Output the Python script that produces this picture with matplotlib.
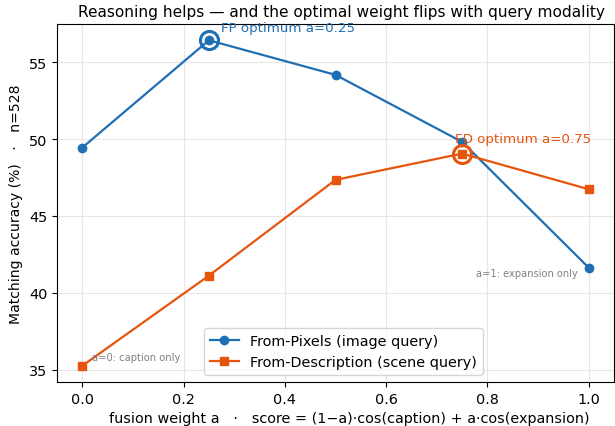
import matplotlib
matplotlib.use("Agg")
import matplotlib.pyplot as plt

weights = [0.0, 0.25, 0.5, 0.75, 1.0]
from_pixels = [49.45, 56.43, 54.18, 49.82, 41.64]
from_description = [35.26, 41.12, 47.35, 49.06, 46.74]

c_fp = "#1f6fb4"
c_fd = "#e6550d"

fig = plt.figure(figsize=(6.15, 4.27), dpi=100)
ax = fig.add_axes([57/615, 1-383/427, (614-57)/615, (383-25)/427])

ax.plot(weights, from_pixels, marker="o", color=c_fp, lw=1.6, ms=6, label="From-Pixels (image query)")
ax.plot(weights, from_description, marker="s", color=c_fd, lw=1.6, ms=6, label="From-Description (scene query)")

i_fp = from_pixels.index(max(from_pixels))
i_fd = from_description.index(max(from_description))
ax.plot(weights[i_fp], from_pixels[i_fp], marker="o", ms=13, mfc="none", mec=c_fp, mew=2.2)
ax.plot(weights[i_fd], from_description[i_fd], marker="o", ms=13, mfc="none", mec=c_fd, mew=2.2)
ax.annotate(f"FP optimum a={weights[i_fp]:.2f}", (weights[i_fp], from_pixels[i_fp]),
            xytext=(9, 7), textcoords="offset points", color=c_fp, fontsize=9.6)
ax.annotate(f"FD optimum a={weights[i_fd]:.2f}", (weights[i_fd], from_description[i_fd]),
            xytext=(-5, 8), textcoords="offset points", color=c_fd, fontsize=9.6)

ax.annotate("a=0: caption only", (weights[0], from_description[0]), xytext=(7, 4),
            textcoords="offset points", color="gray", fontsize=7.2)
ax.annotate("a=1: expansion only", (weights[-1], from_pixels[-1]), xytext=(-8, -6),
            textcoords="offset points", color="gray", fontsize=7.1, ha="right")

ax.grid(True, color="#e6e6e6", lw=0.8)
ax.set_axisbelow(True)
ax.set_xlabel("fusion weight a   ·   score = (1\u2212a)\u00b7cos(caption) + a\u00b7cos(expansion)", fontsize=10.4)
ax.xaxis.label.set_x(0.525)
ax.set_ylabel("Matching accuracy (%)   ·   n=528", fontsize=10.1)
ax.set_title("Reasoning helps \u2014 and the optimal weight flips with query modality", fontsize=11.1, x=0.511)
ax.tick_params(labelsize=10.4)
ax.legend(loc="lower center", bbox_to_anchor=(0.514, 0.0), fontsize=10.4)

fig.savefig("out.png", dpi=100)
